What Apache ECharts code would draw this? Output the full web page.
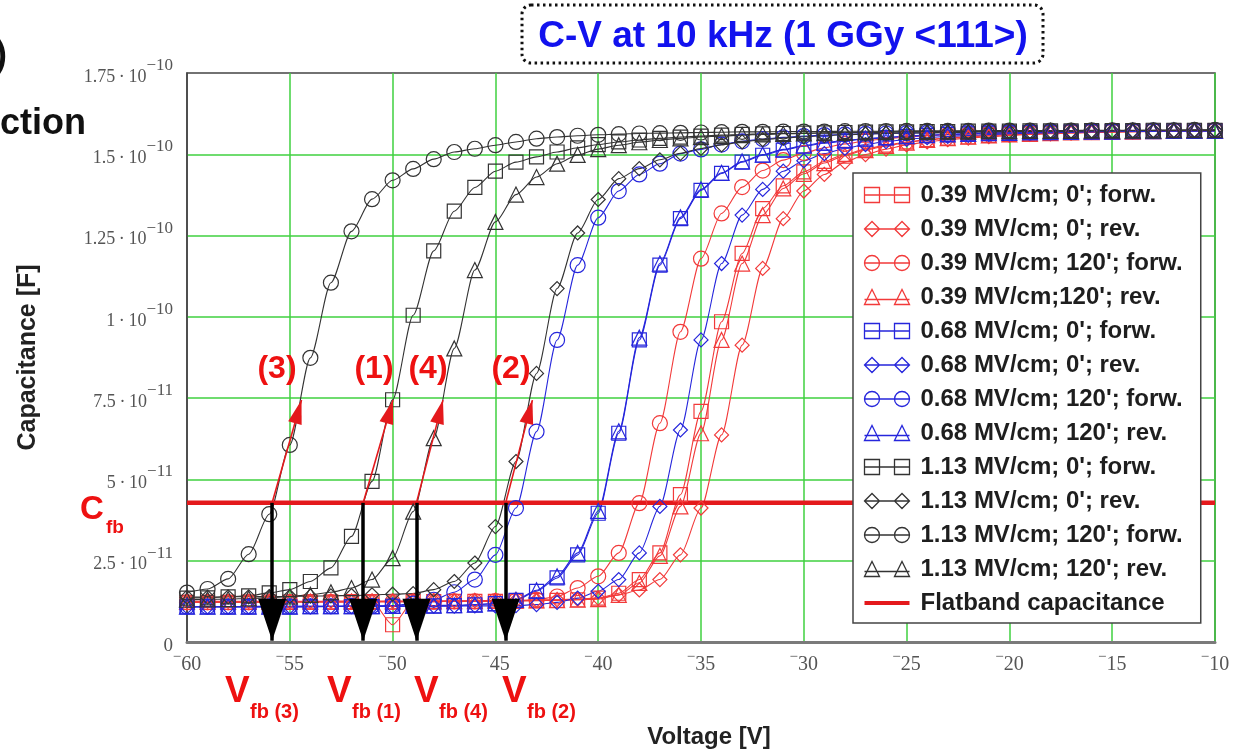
<!DOCTYPE html>
<html>
<head>
<meta charset="utf-8">
<script src="https://cdn.jsdelivr.net/npm/echarts@6/dist/echarts.min.js"></script>
<style>
  html, body { margin: 0; padding: 0; background: #fff; }
  #chart { width: 1236px; height: 754px; }
</style>
</head>
<body>
<div id="chart"></div>
<script>
// Gate voltage sweep points (V)
const voltage = [-60,-59,-58,-57,-56,-55,-54,-53,-52,-51,
                 -50,-49,-48,-47,-46,-45,-44,-43,-42,-41,
                 -40,-39,-38,-37,-36,-35,-34,-33,-32,-31,
                 -30,-29,-28,-27,-26,-25,-24,-23,-22,-21,
                 -20,-19,-18,-17,-16,-15,-14,-13,-12,-11,
                 -10];

// Capacitance in pF (1e-12 F), one array per measurement
const c039_0_forw = [12.2,12.2,12.2,12.3,12.3,12.3,12.3,12.3,12.4,12.4,
                     5.3,12.4,12.4,12.5,12.5,12.5,12.6,12.7,12.8,13.0,
                     13.5,15.0,19.2,27.4,45.3,70.9,98.5,119.5,133.3,140.3,
                     144.6,147.8,150.0,151.6,152.8,153.8,154.5,155.0,155.4,155.8,
                     156.1,156.3,156.5,156.7,156.8,156.9,157.0,157.1,157.2,157.2,
                     157.3];
const c039_0_rev = [12.5,12.5,12.5,12.5,12.5,12.5,12.5,12.6,12.6,12.6,
                    12.6,12.6,12.7,12.7,12.7,12.8,12.8,12.9,13.0,13.2,
                    13.5,14.5,16.0,19.2,26.8,41.2,63.7,91.3,114.9,130.2,
                    138.7,143.8,147.6,149.9,151.6,152.9,153.8,154.5,155.0,155.4,
                    155.8,156.1,156.3,156.5,156.7,156.8,156.9,157.0,157.1,157.2,
                    157.2];
const c039_120_forw = [12.2,12.2,12.2,12.2,12.2,12.3,12.3,12.3,12.3,12.3,
                       12.3,12.4,12.4,12.5,12.5,12.6,12.7,13.0,14.0,16.6,
                       20.2,27.4,42.7,67.3,95.4,117.9,131.8,139.9,145.0,148.2,
                       150.4,152.0,153.2,154.1,154.8,155.3,155.7,156.0,156.2,156.4,
                       156.6,156.7,156.8,156.9,157.0,157.1,157.1,157.2,157.2,157.3,
                       157.3];
const c039_120_rev = [12.3,12.3,12.3,12.3,12.3,12.3,12.4,12.4,12.4,12.4,
                      12.5,12.5,12.5,12.6,12.6,12.7,12.7,12.8,12.9,13.0,
                      13.2,14.5,18.2,26.5,41.7,64.2,92.9,116.4,131.3,139.5,
                      144.0,147.3,149.6,151.3,152.6,153.6,154.4,155.0,155.4,155.8,
                      156.1,156.3,156.5,156.7,156.8,156.9,157.0,157.1,157.2,157.2,
                      157.3];
const c068_0_forw = [10.8,10.8,10.8,10.8,10.8,10.8,10.9,10.9,10.9,10.9,
                     11.0,11.0,11.1,11.2,11.4,11.8,12.8,15.6,19.7,26.8,
                     39.6,64.2,92.9,115.9,130.2,138.9,144.1,147.6,149.7,151.3,
                     152.5,153.4,154.1,154.7,155.1,155.5,155.8,156.1,156.3,156.5,
                     156.6,156.7,156.8,156.9,157.0,157.0,157.1,157.1,157.2,157.2,
                     157.2];
const c068_0_rev = [10.8,10.8,10.8,10.8,10.8,10.8,10.8,10.9,10.9,10.9,
                    10.9,11.0,11.0,11.0,11.1,11.1,11.2,11.5,12.2,13.5,
                    15.6,19.2,27.4,41.7,65.2,92.9,116.4,131.3,139.2,144.8,
                    148.0,150.2,151.8,153.0,153.9,154.6,155.1,155.5,155.8,156.1,
                    156.3,156.5,156.6,156.8,156.9,157.0,157.0,157.1,157.2,157.2,
                    157.3];
const c068_120_forw = [10.9,10.9,10.9,10.9,11.0,11.0,11.0,11.0,11.1,11.1,
                       11.2,11.8,13.0,15.3,19.2,26.8,41.2,64.7,92.9,115.9,
                       130.5,138.7,143.8,147.1,150.2,151.5,153.0,154.0,154.7,155.2,
                       155.6,155.9,156.1,156.3,156.4,156.5,156.6,156.7,156.8,156.9,
                       156.9,157.0,157.0,157.1,157.1,157.2,157.2,157.3,157.3,157.3,
                       157.4];
const c068_120_rev = [10.9,10.9,10.9,10.9,10.9,10.9,11.0,11.0,11.0,11.0,
                      11.1,11.1,11.2,11.3,11.5,11.9,13.0,15.9,20.2,27.4,
                      40.3,64.8,93.6,116.4,130.6,139.2,144.3,147.8,149.9,151.5,
                      152.7,153.6,154.3,154.8,155.2,155.6,155.9,156.1,156.3,156.5,
                      156.6,156.7,156.8,156.9,157.0,157.0,157.1,157.1,157.2,157.2,
                      157.2];
const c113_0_forw = [13.5,13.6,13.9,14.2,15.1,16.1,18.6,22.8,32.5,49.4,
                     74.5,100.5,120.3,132.5,139.8,144.8,147.6,149.2,150.7,152.0,
                     153.0,153.8,154.4,154.9,155.3,155.6,155.9,156.1,156.3,156.4,
                     156.5,156.6,156.7,156.8,156.9,156.9,157.0,157.0,157.1,157.1,
                     157.1,157.2,157.2,157.2,157.3,157.3,157.3,157.4,157.4,157.4,
                     157.4];
const c113_0_rev = [13.8,13.8,13.9,13.9,14.0,14.0,14.1,14.2,14.3,14.5,
                    14.7,14.9,16.1,18.6,24.3,35.5,55.5,82.6,108.7,125.8,
                    136.1,142.5,145.6,148.3,150.3,151.8,152.9,153.8,154.5,155.0,
                    155.4,155.7,156.0,156.2,156.4,156.5,156.6,156.7,156.8,156.9,
                    157.0,157.0,157.1,157.1,157.2,157.2,157.3,157.3,157.3,157.4,
                    157.4];
const c113_120_forw = [15.2,16.3,19.4,27.0,39.3,60.6,87.4,110.5,126.3,136.2,
                       142.0,145.5,148.5,150.7,151.7,152.8,153.8,154.8,155.3,155.7,
                       156.0,156.2,156.4,156.5,156.6,156.7,156.8,156.9,156.9,157.0,
                       157.0,157.0,157.1,157.1,157.1,157.2,157.2,157.2,157.2,157.3,
                       157.3,157.3,157.3,157.3,157.4,157.4,157.4,157.4,157.4,157.5,
                       157.5];
const c113_120_rev = [13.0,13.1,13.2,13.4,13.6,14.0,14.5,15.3,16.6,19.2,
                      25.8,40.1,62.7,90.3,114.4,129.2,137.6,143.0,147.1,149.8,
                      151.6,152.8,153.7,154.4,154.9,155.3,155.6,155.9,156.1,156.3,
                      156.4,156.5,156.6,156.7,156.8,156.9,156.9,157.0,157.0,157.1,
                      157.1,157.2,157.2,157.2,157.3,157.3,157.3,157.3,157.4,157.4,
                      157.4];

const seriesNames = [
  "0.39 MV/cm; 0'; forw.", "0.39 MV/cm; 0'; rev.", "0.39 MV/cm; 120'; forw.", "0.39 MV/cm;120'; rev.",
  "0.68 MV/cm; 0'; forw.", "0.68 MV/cm; 0'; rev.", "0.68 MV/cm; 120'; forw.", "0.68 MV/cm; 120'; rev.",
  "1.13 MV/cm; 0'; forw.", "1.13 MV/cm; 0'; rev.", "1.13 MV/cm; 120'; forw.", "1.13 MV/cm; 120'; rev."
];
const seriesValues = [
  c039_0_forw, c039_0_rev, c039_120_forw, c039_120_rev,
  c068_0_forw, c068_0_rev, c068_120_forw, c068_120_rev,
  c113_0_forw, c113_0_rev, c113_120_forw, c113_120_rev
];
const flatbandName = 'Flatband capacitance';

// Flatband capacitance (pF) and the flatband voltages picked off four curves
const cFlatband = 42.8;
const flatbandPoints = [
  { tag: '(3)', vfb: -55.86, vUp: -54.43 },
  { tag: '(1)', vfb: -51.43, vUp: -49.98 },
  { tag: '(4)', vfb: -48.84, vUp: -47.55 },
  { tag: '(2)', vfb: -44.50, vUp: -43.20 }
];
const cArrowTip = 74.4;

// Axis tick labels
const xTickLabels = ['\u221260','\u221255','\u221250','\u221245','\u221240','\u221235',
                     '\u221230','\u221225','\u221220','\u221215','\u221210'];
const yTickLabels = ['0', '2.5\u2009\u00b7\u200910^\u221211', '5\u2009\u00b7\u200910^\u221211',
                     '7.5\u2009\u00b7\u200910^\u221211', '1\u2009\u00b7\u200910^\u221210',
                     '1.25\u2009\u00b7\u200910^\u221210', '1.5\u2009\u00b7\u200910^\u221210',
                     '1.75\u2009\u00b7\u200910^\u221210'];

// ---- styling ----
const SANS = '"Liberation Sans", Arial, Helvetica, sans-serif';
const SERIF = '"Liberation Serif", "Times New Roman", serif';
const RED = '#f23a3a', BLUE = '#2626dc', BLACK = '#333333';
const GRID_GREEN = '#3fd03f';
const FB_RED = '#e4191c';
const groupColors = [RED, RED, RED, RED, BLUE, BLUE, BLUE, BLUE, BLACK, BLACK, BLACK, BLACK];
const markerKinds = ['rect', 'diamond', 'circle', 'triangle'];
const markerSizes = { rect: 14, diamond: 14, circle: 15, triangle: 15 };
const legendIcons = {
  rect: 'path://M0,0H15V15H0ZM30,0H45V15H30ZM0,7.5H45',
  diamond: 'path://M0,7.5L7.5,0L15,7.5L7.5,15ZM30,7.5L37.5,0L45,7.5L37.5,15ZM0,7.5H45',
  circle: 'path://M0,7.5A7.5,7.5,0,1,1,15,7.5A7.5,7.5,0,1,1,0,7.5ZM30,7.5A7.5,7.5,0,1,1,45,7.5A7.5,7.5,0,1,1,30,7.5ZM0,7.5H45',
  triangle: 'path://M0,15L7.5,0L15,15ZM30,15L37.5,0L45,15ZM0,10H45'
};
const flatIcon = 'path://M0,0M0,5.5H45V9.5H0ZM45,15';

const xMin = -60, xMax = -10, xStep = 5;
const yMin = 0, yMax = 175, yStep = 25;

const curveSeries = seriesNames.map((name, i) => {
  const kind = markerKinds[i % 4];
  const col = groupColors[i];
  return {
    type: 'line',
    name: name,
    data: voltage.map((v, k) => [v, seriesValues[i][k]]),
    smooth: 0.25,
    smoothMonotone: 'x',
    symbol: kind,
    symbolSize: markerSizes[kind],
    showAllSymbol: true,
    lineStyle: { color: col, width: 1.1 },
    itemStyle: { color: 'none', borderColor: col, borderWidth: 1.2 },
    silent: true,
    animation: false
  };
});

const arrowLines = [];
flatbandPoints.forEach(p => {
  // red arrow running up the curve from the flatband crossing
  arrowLines.push([
    { coord: [p.vfb, cFlatband], symbol: 'none', lineStyle: { color: FB_RED, width: 1.6, type: 'solid' } },
    { coord: [p.vUp, cArrowTip], symbol: 'triangle', symbolSize: [14, 24], symbolOffset: [0, '50%'] }
  ]);
  // black arrow dropping from the crossing to the voltage axis
  arrowLines.push([
    { coord: [p.vfb, cFlatband], symbol: 'none', lineStyle: { color: '#000', width: 3.5, type: 'solid' } },
    { coord: [p.vfb, 0.4], symbol: 'triangle', symbolSize: [28, 42], symbolOffset: [0, '50%'] }
  ]);
});

const flatbandSeries = {
  type: 'line',
  name: flatbandName,
  data: [[xMin, cFlatband], [xMax, cFlatband]],
  symbol: 'none',
  lineStyle: { color: FB_RED, width: 4.5 },
  itemStyle: { color: FB_RED },
  silent: true,
  animation: false,
  markLine: {
    silent: true,
    animation: false,
    symbol: ['none', 'triangle'],
    label: { show: false },
    emphasis: { disabled: true },
    itemStyle: { color: '#000' },
    data: arrowLines
  }
};

const legendData = seriesNames.map((name, i) => ({
  name: name,
  icon: legendIcons[markerKinds[i % 4]],
  itemStyle: { color: 'none', borderColor: groupColors[i], borderWidth: 1.3 }
}));
legendData.push({ name: flatbandName, icon: flatIcon, itemStyle: { color: FB_RED, borderWidth: 0 } });

const option = {
  backgroundColor: '#ffffff',
  animation: false,
  grid: {
    left: 187, right: 21, top: 73, bottom: 112,
    show: true, borderColor: '#444', borderWidth: 1.5, backgroundColor: 'transparent'
  },
  xAxis: {
    type: 'value', min: xMin, max: xMax, interval: xStep,
    axisLine: { show: true, onZero: false, lineStyle: { color: '#7a7a7a', width: 3 } },
    axisTick: { show: false },
    splitLine: { show: true, showMinLine: false, lineStyle: { color: GRID_GREEN, width: 1.5 } },
    axisLabel: {
      margin: 8, showMinLabel: true, showMaxLabel: true,
      formatter: v => {
        const s = xTickLabels[Math.round((v - xMin) / xStep)] || '';
        return '{m|' + s.charAt(0) + '}{n|' + s.slice(1) + '}';
      },
      rich: {
        m: { fontFamily: SERIF, fontSize: 15, color: '#555', lineHeight: 20, verticalAlign: 'top' },
        n: { fontFamily: SERIF, fontSize: 20, color: '#555', lineHeight: 30 }
      }
    },
    name: 'Voltage [V]', nameLocation: 'middle', nameGap: 83,
    nameTextStyle: { fontFamily: SANS, fontSize: 24, fontWeight: 'bold', color: '#222', padding: [0, 0, 0, 16] }
  },
  yAxis: {
    type: 'value', min: yMin, max: yMax, interval: yStep,
    axisLine: { show: true, lineStyle: { color: '#444', width: 1.5 } },
    axisTick: { show: false },
    splitLine: { show: true, showMinLine: false, showMaxLine: false, lineStyle: { color: GRID_GREEN, width: 1.5 } },
    axisLabel: {
      margin: 14, padding: [8, 0, 0, 0], showMinLabel: true, showMaxLabel: true,
      formatter: v => {
        const s = yTickLabels[Math.round((v - yMin) / yStep)] || '';
        if (s.indexOf('^') < 0) return '{z|' + s + '}';
        const parts = s.split('^');
        return '{b|' + parts[0] + '}{e|' + parts[1] + '}';
      },
      rich: {
        b: { fontFamily: SERIF, fontSize: 18, color: '#555', lineHeight: 40 },
        e: { fontFamily: SERIF, fontSize: 17, color: '#555', lineHeight: 16, verticalAlign: 'top' },
        z: { fontFamily: SERIF, fontSize: 19, color: '#555', lineHeight: 20 }
      }
    },
    name: 'Capacitance [F]', nameLocation: 'middle', nameGap: 146,
    nameTextStyle: { fontFamily: SANS, fontSize: 25, fontWeight: 'bold', color: '#222' }
  },
  legend: {
    orient: 'vertical', left: 853, top: 173,
    padding: [10, 18, 8, 9],
    itemGap: 10, itemWidth: 45, itemHeight: 15,
    backgroundColor: '#fff', borderColor: '#444', borderWidth: 1.5,
    selectedMode: false,
    textStyle: { fontFamily: SANS, fontSize: 24, fontWeight: 'bold', color: '#1e1e1e', lineHeight: 24, padding: [0, 0, 0, 6] },
    data: legendData
  },
  series: curveSeries.concat([flatbandSeries]),
  graphic: [
    // headline in a dotted rounded frame
    { type: 'rect', z: 100, shape: { x: 522, y: 5, width: 521, height: 58, r: 9 },
      style: { fill: 'none', stroke: '#111', lineWidth: 3, lineDash: [2.5, 3.5] } },
    { type: 'text', z: 100, x: 783, y: 37,
      style: { text: 'C-V at 10 kHz (1 GGy <111>)', font: 'bold 37px ' + SANS, fill: '#1212ee', align: 'center', verticalAlign: 'middle' } },
    // slide text clipped at the left edge
    { type: 'text', z: 100, x: -5, y: 56,
      style: { text: ')', font: 'bold 36px ' + SANS, fill: '#111', align: 'left', verticalAlign: 'middle' } },
    { type: 'text', z: 100, x: 0, y: 124,
      style: { text: 'ction', font: 'bold 36px ' + SANS, fill: '#111', align: 'left', verticalAlign: 'middle' } },
    // flatband capacitance marker on the left
    { type: 'text', z: 100, x: 80, y: 510,
      style: { text: 'C', font: 'bold 33px ' + SANS, fill: '#ee1111', align: 'left', verticalAlign: 'middle' } },
    { type: 'text', z: 100, x: 106, y: 528,
      style: { text: 'fb', font: 'bold 19px ' + SANS, fill: '#ee1111', align: 'left', verticalAlign: 'middle' } },
    // curve tags
    { type: 'text', z: 100, x: 277, y: 369, style: { text: '(3)', font: 'bold 32px ' + SANS, fill: '#ee1111', align: 'center', verticalAlign: 'middle' } },
    { type: 'text', z: 100, x: 374, y: 369, style: { text: '(1)', font: 'bold 32px ' + SANS, fill: '#ee1111', align: 'center', verticalAlign: 'middle' } },
    { type: 'text', z: 100, x: 428, y: 369, style: { text: '(4)', font: 'bold 32px ' + SANS, fill: '#ee1111', align: 'center', verticalAlign: 'middle' } },
    { type: 'text', z: 100, x: 511, y: 369, style: { text: '(2)', font: 'bold 32px ' + SANS, fill: '#ee1111', align: 'center', verticalAlign: 'middle' } },
    // flatband voltage tags under the axis
    { type: 'text', z: 100, x: 225, y: 692, style: { text: 'V', font: 'bold 37px ' + SANS, fill: '#ee1111', align: 'left', verticalAlign: 'middle' } },
    { type: 'text', z: 100, x: 250, y: 712, style: { text: 'fb (3)', font: 'bold 20px ' + SANS, fill: '#ee1111', align: 'left', verticalAlign: 'middle' } },
    { type: 'text', z: 100, x: 327, y: 692, style: { text: 'V', font: 'bold 37px ' + SANS, fill: '#ee1111', align: 'left', verticalAlign: 'middle' } },
    { type: 'text', z: 100, x: 352, y: 712, style: { text: 'fb (1)', font: 'bold 20px ' + SANS, fill: '#ee1111', align: 'left', verticalAlign: 'middle' } },
    { type: 'text', z: 100, x: 414, y: 692, style: { text: 'V', font: 'bold 37px ' + SANS, fill: '#ee1111', align: 'left', verticalAlign: 'middle' } },
    { type: 'text', z: 100, x: 439, y: 712, style: { text: 'fb (4)', font: 'bold 20px ' + SANS, fill: '#ee1111', align: 'left', verticalAlign: 'middle' } },
    { type: 'text', z: 100, x: 502, y: 692, style: { text: 'V', font: 'bold 37px ' + SANS, fill: '#ee1111', align: 'left', verticalAlign: 'middle' } },
    { type: 'text', z: 100, x: 527, y: 712, style: { text: 'fb (2)', font: 'bold 20px ' + SANS, fill: '#ee1111', align: 'left', verticalAlign: 'middle' } }
  ]
};

const chart = echarts.init(document.getElementById('chart'), null, { renderer: 'canvas' });
chart.setOption(option);
</script>
</body>
</html>
